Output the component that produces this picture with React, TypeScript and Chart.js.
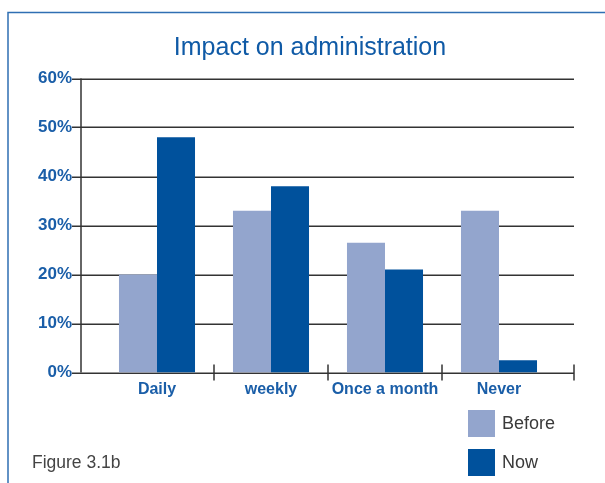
import React, { useEffect, useRef } from "react";
import { Chart, registerables } from "chart.js";

Chart.register(...registerables);

const categories = ["Daily", "weekly", "Once a month", "Never"];
const beforeValues = [20, 33, 26.5, 33];
const nowValues = [48, 38, 21, 2.5];
const seriesNames = ["Before", "Now"];
const yTickValues = [0, 10, 20, 30, 40, 50, 60];
const titleText = "Impact on administration";
const figureText = "Figure 3.1b";

const FONT = "'Liberation Sans', Arial, sans-serif";
const BLUE_TEXT = "#1a5ea8";
const BEFORE_COLOR = "#93a5cd";
const NOW_COLOR = "#00519c";
const LINE_COLOR = "#333333";

const decorPlugin = {
  id: "decor",
  beforeDraw(chart: any) {
    const ctx = chart.ctx;
    ctx.save();
    ctx.fillStyle = "#ffffff";
    ctx.fillRect(0, 0, chart.width, chart.height);
    // frame
    ctx.strokeStyle = "#2f6fb3";
    ctx.lineWidth = 1.5;
    ctx.beginPath();
    ctx.moveTo(8, chart.height);
    ctx.lineTo(8, 12.5);
    ctx.lineTo(chart.width, 12.5);
    ctx.stroke();
    // title
    ctx.fillStyle = "#0f5aa6";
    ctx.font = `25px ${FONT}`;
    ctx.textAlign = "center";
    ctx.textBaseline = "alphabetic";
    ctx.fillText(titleText, 310, 55);
    // figure caption
    ctx.fillStyle = "#444444";
    ctx.font = `17.5px ${FONT}`;
    ctx.textAlign = "left";
    ctx.textBaseline = "middle";
    ctx.fillText(figureText, 32, 463);
    ctx.restore();
  },
  beforeDatasetsDraw(chart: any) {
    const ctx = chart.ctx;
    const area = chart.chartArea;
    const ys = chart.scales.y;
    const xs = chart.scales.x;
    const leftExt = area.left - 28;
    const axisX = area.left - 19;
    const rightExt = area.right + 18;
    ctx.save();
    ctx.strokeStyle = LINE_COLOR;
    ctx.lineWidth = 1.5;
    ys.ticks.forEach((t: any) => {
      const y = Math.round(ys.getPixelForValue(t.value)) + 0.25;
      ctx.beginPath();
      ctx.moveTo(leftExt, y);
      ctx.lineTo(rightExt, y);
      ctx.stroke();
    });
    const top = ys.getPixelForValue(ys.max);
    const base = ys.getPixelForValue(0);
    ctx.beginPath();
    ctx.moveTo(axisX, top);
    ctx.lineTo(axisX, base);
    ctx.stroke();
    // category boundary ticks
    const n = categories.length;
    const step = xs.getPixelForValue(1) - xs.getPixelForValue(0);
    for (let i = 0; i < n - 1; i++) {
      const x = xs.getPixelForValue(i) + step / 2;
      ctx.beginPath();
      ctx.moveTo(x, base - 8);
      ctx.lineTo(x, base + 8);
      ctx.stroke();
    }
    ctx.beginPath();
    ctx.moveTo(rightExt, base - 8);
    ctx.lineTo(rightExt, base + 8);
    ctx.stroke();
    ctx.restore();
  },
  afterDraw(chart: any) {
    const ctx = chart.ctx;
    ctx.save();
    chart.data.datasets.forEach((ds: any, i: number) => {
      const y0 = 410 + i * 39;
      ctx.fillStyle = ds.backgroundColor;
      ctx.fillRect(468, y0, 27, 27);
      ctx.fillStyle = "#3a3a3a";
      ctx.font = `18px ${FONT}`;
      ctx.textAlign = "left";
      ctx.textBaseline = "middle";
      ctx.fillText(ds.label, 502, y0 + 14);
    });
    ctx.restore();
  },
};

export default function App() {
  const ref = useRef<HTMLCanvasElement | null>(null);
  useEffect(() => {
    if (!ref.current) return;
    const chart = new Chart(ref.current, {
      type: "bar",
      data: {
        labels: categories,
        datasets: [
          { label: seriesNames[0], data: beforeValues, backgroundColor: BEFORE_COLOR, borderWidth: 0 },
          { label: seriesNames[1], data: nowValues, backgroundColor: NOW_COLOR, borderWidth: 0 },
        ],
      },
      options: {
        animation: false,
        responsive: true,
        maintainAspectRatio: false,
        layout: { padding: { left: 0, right: 49, top: 78.5, bottom: 0 } },
        datasets: { bar: { categoryPercentage: 0.667, barPercentage: 1.0 } },
        plugins: { legend: { display: false }, tooltip: { enabled: false }, title: { display: false } },
        scales: {
          x: {
            offset: true,
            grid: { display: false, drawTicks: false },
            border: { display: false },
            ticks: {
              color: BLUE_TEXT,
              font: { family: FONT, size: 16, weight: "bold" },
              padding: 7,
              maxRotation: 0,
              autoSkip: false,
            },
            afterFit: (s: any) => {
              s.height = 110.5;
            },
          },
          y: {
            min: 0,
            max: 60,
            afterBuildTicks: (s: any) => {
              s.ticks = yTickValues.map((v) => ({ value: v }));
            },
            grid: { display: false, drawTicks: false },
            border: { display: false },
            ticks: {
              color: BLUE_TEXT,
              font: { family: FONT, size: 17, weight: "bold" },
              padding: 28,
              callback: (v: any) => `${v}%`,
            },
            afterFit: (s: any) => {
              s.width = 100;
            },
          },
        },
      },
      plugins: [decorPlugin],
    });
    return () => chart.destroy();
  }, []);
  return (
    <div style={{ position: "absolute", left: 0, top: 0, width: 605, height: 483 }}>
      <canvas ref={ref} />
    </div>
  );
}
